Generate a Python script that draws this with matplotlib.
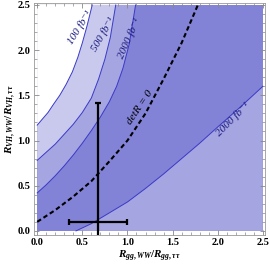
import matplotlib
matplotlib.use("Agg")
import matplotlib.pyplot as plt
import numpy as np

plt.rcParams['mathtext.fontset'] = 'custom'
plt.rcParams['mathtext.it'] = 'Liberation Serif:italic:bold'
plt.rcParams['mathtext.rm'] = 'Liberation Serif:bold'
plt.rcParams['mathtext.bf'] = 'Liberation Serif:bold'

# contour curves (x, y)
cA_x = [0.0, 0.06, 0.12, 0.18, 0.25, 0.32, 0.39, 0.45, 0.50, 0.55, 0.61]
cA_y = [1.17, 1.24, 1.31, 1.40, 1.50, 1.62, 1.76, 1.92, 2.08, 2.26, 2.50]
cB_x = [0.0, 0.10, 0.20, 0.30, 0.40, 0.50, 0.60, 0.68, 0.75, 0.81, 0.87]
cB_y = [0.78, 0.87, 0.96, 1.07, 1.18, 1.31, 1.47, 1.68, 1.90, 2.14, 2.50]
cC_x = [0.0, 0.10, 0.20, 0.30, 0.40, 0.50, 0.60, 0.70, 0.80, 0.88, 0.95, 1.02, 1.09]
cC_y = [0.42, 0.51, 0.61, 0.72, 0.84, 0.97, 1.11, 1.26, 1.43, 1.60, 1.80, 2.07, 2.50]
cD_x = [0.43, 0.60, 0.80, 1.00, 1.20, 1.40, 1.60, 1.80, 2.00, 2.25, 2.50]
cD_y = [0.0, 0.08, 0.20, 0.32, 0.47, 0.63, 0.80, 0.97, 1.15, 1.37, 1.60]
det_x = [0.0, 0.20, 0.40, 0.60, 0.80, 1.00, 1.20, 1.40, 1.60, 1.78]
det_y = [0.10, 0.23, 0.38, 0.55, 0.77, 1.00, 1.30, 1.68, 2.08, 2.50]

# measurement point and errors
pt_x, pt_y = 0.67, 0.10
x_lo, x_hi = 0.35, 1.00
y_lo, y_hi = -0.6, 1.42

c_white = '#ffffff'
c_light = '#c9c9ed'
c_mid = '#a5a5e1'
c_dark = '#8282d6'
c_line = '#3a3ac8'

fig = plt.figure(figsize=(2.7, 2.67), dpi=100)
ax = fig.add_axes([0.126, 0.12, 0.856, 0.87])

# background = dark band
ax.fill([0, 2.5, 2.5, 0], [0, 0, 2.5, 2.5], color=c_dark, lw=0)
ax.fill(cC_x + [0], cC_y + [2.5], color=c_mid, lw=0)
ax.fill(cB_x + [0], cB_y + [2.5], color=c_light, lw=0)
ax.fill(cA_x + [0], cA_y + [2.5], color=c_white, lw=0)
ax.fill(cD_x + [2.5], cD_y + [0], color=c_mid, lw=0)

for xs, ys in [(cA_x, cA_y), (cB_x, cB_y), (cC_x, cC_y), (cD_x, cD_y)]:
    ax.plot(xs, ys, color=c_line, lw=0.7)

ax.plot(det_x, det_y, color='black', lw=1.5, ls=(0, (2.2, 1.4)))

ax.errorbar(pt_x, pt_y, xerr=[[pt_x - x_lo], [x_hi - pt_x]],
            yerr=[[pt_y - y_lo], [y_hi - pt_y]], fmt='none',
            ecolor='black', elinewidth=1.6, capsize=1.9, capthick=1.6)

tfont = dict(family=['Liberation Serif', 'DejaVu Serif'], style='italic',
             color='#1a1a80', fontsize=8, ha='center', va='center')
ax.text(0.47, 2.25, '100 fb⁻¹', rotation=58, **tfont)
ax.text(0.735, 2.18, '500 fb⁻¹', rotation=60, **tfont)
ax.text(1.02, 2.13, '2000 fb⁻¹', rotation=66, **tfont)
ax.text(2.17, 1.23, '2000 fb⁻¹', rotation=45, **tfont)
ax.text(1.14, 1.37, 'detR = 0', rotation=56,
        **dict(tfont, color='black'))

ax.set_xlim(-0.035, 2.525)
ax.set_ylim(-0.045, 2.525)
ax.set_xticks(np.arange(0, 2.51, 0.5))
ax.set_yticks(np.arange(0, 2.51, 0.5))
ax.set_xticks(np.arange(0, 2.51, 0.1), minor=True)
ax.set_yticks(np.arange(0, 2.51, 0.1), minor=True)
ax.tick_params(which='both', direction='in', top=True, right=True,
               colors='#888888', labelcolor='black')
ax.tick_params(which='major', length=3.5, width=0.6, pad=2.5)
ax.tick_params(which='minor', length=2, width=0.5)
for lab in ax.get_xticklabels() + ax.get_yticklabels():
    lab.set_fontfamily('Liberation Serif')
    lab.set_fontweight('bold')
    lab.set_fontsize(7.5)
ax.xaxis.set_major_formatter(matplotlib.ticker.FormatStrFormatter('%.1f'))
ax.yaxis.set_major_formatter(matplotlib.ticker.FormatStrFormatter('%.1f'))
for s in ax.spines.values():
    s.set_color('#999999')
    s.set_linewidth(0.6)

ax.set_xlabel(r'$R_{gg,WW}/R_{gg,\tau\tau}$', fontsize=8, labelpad=1)
ax.set_ylabel(r'$R_{VH,WW}/R_{VH,\tau\tau}$', fontsize=8, labelpad=0)

fig.savefig('out.png', dpi=100)
